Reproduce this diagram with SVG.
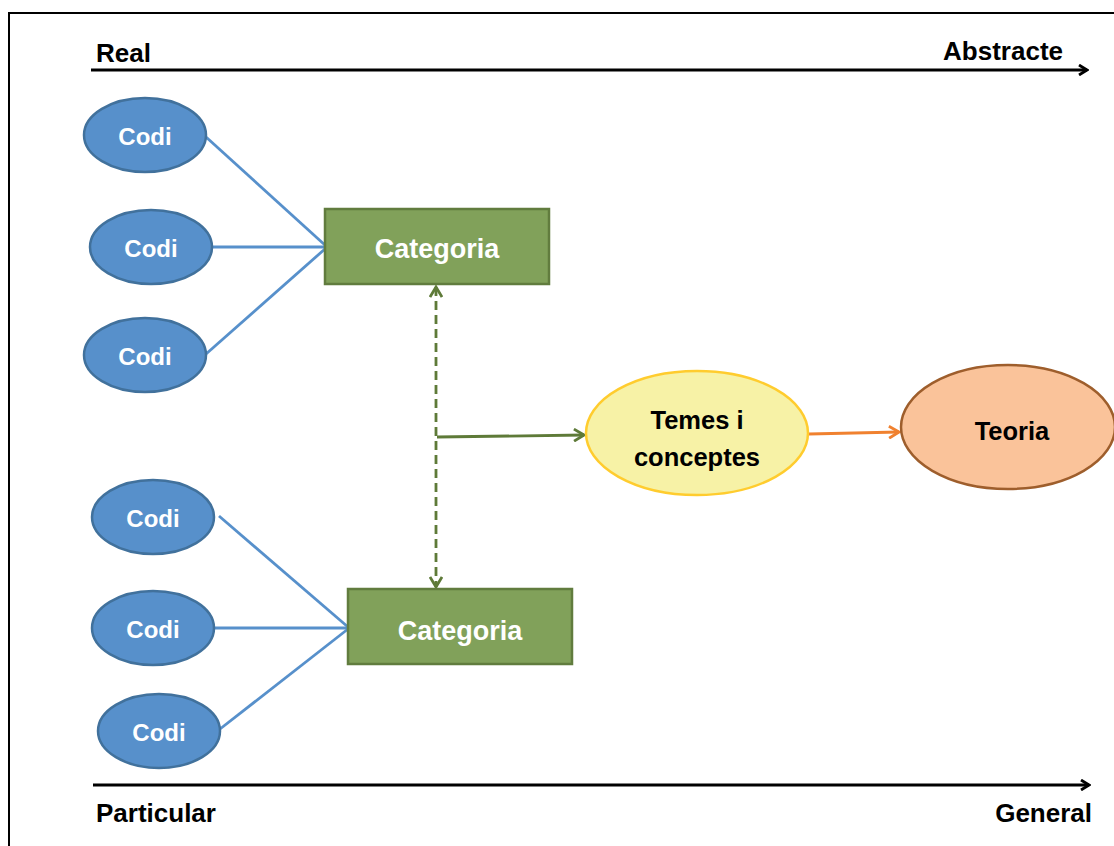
<svg xmlns="http://www.w3.org/2000/svg" width="1114" height="846" viewBox="0 0 1114 846">
  <style>
    text { font-family: "Liberation Sans", Arial, sans-serif; font-weight: bold; }
    .axis-label { font-size: 26px; fill: #000; }
    .codi ellipse { fill: #5790CB; stroke: #41719C; stroke-width: 2.5; }
    .codi text { font-size: 24px; fill: #fff; text-anchor: middle; }
    .cat rect { fill: #81A15A; stroke: #617C3E; stroke-width: 2.5; }
    .cat text { font-size: 27px; fill: #fff; text-anchor: middle; }
    .link { stroke: #5790CB; stroke-width: 2.8; fill: none; }
  </style>
  <defs>
    <marker id="arrow-black" viewBox="0 0 12 12" refX="10" refY="6" markerWidth="12" markerHeight="12" markerUnits="userSpaceOnUse" orient="auto">
      <path d="M2,1 L10,6 L2,11" fill="none" stroke="#000" stroke-width="2.8"/>
    </marker>
    <marker id="arrow-green" viewBox="0 0 14 14" refX="12" refY="7" markerWidth="14" markerHeight="14" markerUnits="userSpaceOnUse" orient="auto-start-reverse">
      <path d="M2,1 L12,7 L2,13" fill="none" stroke="#5E7A38" stroke-width="2.8"/>
    </marker>
    <marker id="arrow-orange" viewBox="0 0 14 14" refX="12" refY="7" markerWidth="14" markerHeight="14" markerUnits="userSpaceOnUse" orient="auto">
      <path d="M2,1 L12,7 L2,13" fill="none" stroke="#F0812F" stroke-width="2.8"/>
    </marker>
  </defs>

  <rect width="1114" height="846" fill="#fff"/>
  <!-- outer frame -->
  <path d="M9,846 L9,13 L1114,13" fill="none" stroke="#000" stroke-width="2"/>

  <!-- axes -->
  <g id="axes">
    <line x1="91" y1="70" x2="1087" y2="70" stroke="#000" stroke-width="2.8" marker-end="url(#arrow-black)"/>
    <line x1="93" y1="785" x2="1089" y2="785" stroke="#000" stroke-width="2.8" marker-end="url(#arrow-black)"/>
    <text class="axis-label" x="96" y="62">Real</text>
    <text class="axis-label" x="1063" y="60" text-anchor="end">Abstracte</text>
    <text class="axis-label" x="96" y="822">Particular</text>
    <text class="axis-label" x="1092" y="822" text-anchor="end">General</text>
  </g>

  <!-- connectors -->
  <g id="connectors">
    <line class="link" x1="206" y1="137" x2="326" y2="246"/>
    <line class="link" x1="212" y1="247" x2="326" y2="247"/>
    <line class="link" x1="206" y1="354" x2="326" y2="248"/>
    <line class="link" x1="219" y1="516" x2="348" y2="627"/>
    <line class="link" x1="214" y1="628" x2="357" y2="628"/>
    <line class="link" x1="220" y1="729" x2="348" y2="629"/>
    <line x1="436" y1="287" x2="436" y2="587" stroke="#5E7A38" stroke-width="2.8" stroke-dasharray="9,5" marker-start="url(#arrow-green)" marker-end="url(#arrow-green)"/>
    <line x1="437" y1="437" x2="584" y2="435" stroke="#5E7A38" stroke-width="2.8" marker-end="url(#arrow-green)"/>
    <line x1="809" y1="434" x2="899" y2="432" stroke="#F0812F" stroke-width="2.8" marker-end="url(#arrow-orange)"/>
  </g>

  <!-- codes -->
  <g id="codi-1" class="codi"><ellipse cx="145" cy="135" rx="61" ry="37"/><text x="145" y="145">Codi</text></g>
  <g id="codi-2" class="codi"><ellipse cx="151" cy="247" rx="61" ry="37"/><text x="151" y="257">Codi</text></g>
  <g id="codi-3" class="codi"><ellipse cx="145" cy="355" rx="61" ry="37"/><text x="145" y="365">Codi</text></g>
  <g id="codi-4" class="codi"><ellipse cx="153" cy="517" rx="61" ry="37"/><text x="153" y="527">Codi</text></g>
  <g id="codi-5" class="codi"><ellipse cx="153" cy="628" rx="61" ry="37"/><text x="153" y="638">Codi</text></g>
  <g id="codi-6" class="codi"><ellipse cx="159" cy="731" rx="61" ry="37"/><text x="159" y="741">Codi</text></g>

  <!-- categories -->
  <g id="categoria-1" class="cat"><rect x="325" y="209" width="224" height="75"/><text x="437" y="258">Categoria</text></g>
  <g id="categoria-2" class="cat"><rect x="348" y="589" width="224" height="75"/><text x="460" y="640">Categoria</text></g>

  <!-- themes and concepts -->
  <g id="temes">
    <ellipse cx="697" cy="433" rx="111" ry="62" fill="#F7F2A6" stroke="#FFCC2E" stroke-width="2.5"/>
    <text x="697" y="429" font-size="25.5" fill="#000" text-anchor="middle">Temes i</text>
    <text x="697" y="466" font-size="25.5" fill="#000" text-anchor="middle">conceptes</text>
  </g>

  <!-- theory -->
  <g id="teoria">
    <ellipse cx="1008" cy="427" rx="107" ry="62" fill="#FAC39A" stroke="#9E5E2C" stroke-width="2.5"/>
    <text x="1012" y="440" font-size="25.5" fill="#000" text-anchor="middle">Teoria</text>
  </g>
</svg>
